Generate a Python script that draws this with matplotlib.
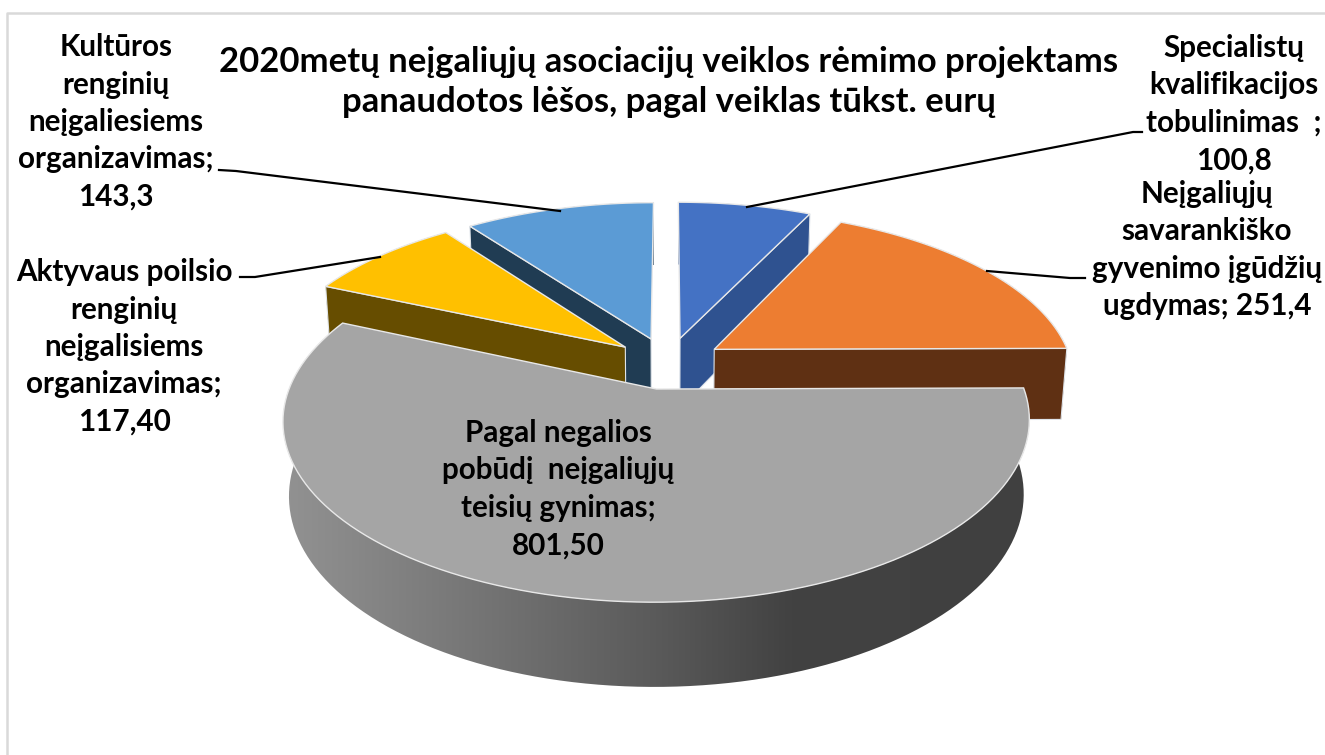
import numpy as np
import matplotlib.pyplot as plt
from matplotlib.colors import LinearSegmentedColormap
from matplotlib.patches import Polygon

title = '2020metų neįgaliųjų asociacijų veiklos rėmimo projektams\npanaudotos lėšos, pagal veiklas tūkst. eurų'
# order is clockwise from 12 o'clock, as in the chart
categories = ['Specialistų\nkvalifikacijos\ntobulinimas  ;',
              'Neįgaliųjų\nsavarankiško\ngyvenimo įgūdžių\nugdymas;',
              'Pagal negalios\npobūdį  neįgaliųjų\nteisių gynimas;',
              'Aktyvaus poilsio\nrenginių\nneįgalisiems\norganizavimas;',
              'Kultūros\nrenginių\nneįgaliesiems\norganizavimas;']
values = [100.8, 251.4, 801.5, 117.4, 143.3]
value_labels = ['100,8', '251,4', '801,50', '117,40', '143,3']
top_colors = ['#4472c4', '#ed7d31', '#a5a5a5', '#ffc000', '#5b9bd5']
side_colors = ['#2f5290', '#5f3013', '#707070', '#664d00', '#203c53']

# projection of the tilted pie, in pixels
CX, CY = 668, 363
RX, RY = 358, 167
PERSP, PERSP_Z = 0.17, 0.015
DEPTH = 73
EXPLODE = 0.155


def project(u, v, z=0.0):
    w = 1 + PERSP * v + PERSP_Z * z
    return CX + RX * u / w, CY + (-RY * v + DEPTH * z) / w


def rim(a0, a1, off, z=0.0, n=120):
    t = np.linspace(a0, a1, n)
    x, y = project(np.sin(t) + off[0], np.cos(t) + off[1], z)
    return np.column_stack([x, y])


fig = plt.figure(figsize=(13.25, 7.55), dpi=100)
ax = fig.add_axes([0, 0, 1, 1])
ax.set_xlim(0, 1325)
ax.set_ylim(755, 0)
ax.axis('off')

# chart frame, only left and top edges show in the crop
ax.plot([7, 7, 1325], [755, 13, 13], color='#d9d9d9', lw=1.8, zorder=1)

angles = np.cumsum([0] + values) / sum(values) * 2 * np.pi
draw_order = [0, 4, 3, 1, 2]
z = 2
for i in draw_order:
    a0, a1 = angles[i], angles[i + 1]
    mid = (a0 + a1) / 2
    off = (EXPLODE * np.sin(mid), EXPLODE * np.cos(mid))
    top = rim(a0, a1, off)
    bottom = rim(a0, a1, off, 1.0)
    apex_top = np.array(project(off[0], off[1]))
    apex_bot = np.array(project(off[0], off[1], 1.0))

    side = np.vstack([top, bottom[::-1]])
    if i == 2:
        # gray slice has the gradient on its rim
        cmap = LinearSegmentedColormap.from_list(
            'rim', [(0, '#929292'), (0.19, '#7d7d7d'), (0.5, '#5a5a5a'), (0.68, '#424242'), (1, '#404040')])
        clip = Polygon(side, closed=True, fc='none', ec='none', zorder=z)
        ax.add_patch(clip)
        im = ax.imshow(np.linspace(0, 1, 256)[None, :], cmap=cmap, aspect='auto',
                       extent=(side[:, 0].min(), side[:, 0].max(), side[:, 1].max(), side[:, 1].min()),
                       zorder=z)
        im.set_clip_path(clip)
    else:
        ax.add_patch(Polygon(side, fc=side_colors[i], ec='none', zorder=z))
        # only the cut face turned towards the viewer gets drawn
        if np.cos(a1 + np.pi / 2) < 0:
            face = np.vstack([apex_top, top[-1], bottom[-1], apex_bot])
        else:
            face = np.vstack([apex_top, top[0], bottom[0], apex_bot])
        ax.add_patch(Polygon(face, fc=side_colors[i], ec='#dfe4ea', lw=0.8, zorder=z))
    ax.add_patch(Polygon(np.vstack([apex_top, top]), fc=top_colors[i], ec='#e8e8e8', lw=1.0, zorder=z + 1))
    z += 2

ax.set_xlim(0, 1325)
ax.set_ylim(755, 0)

plt.rcParams['font.family'] = ['Lato', 'DejaVu Sans']
ax.text(669, 82, title, ha='center', va='center', fontsize=24.9, fontweight='bold', linespacing=1.28, zorder=30)

# label centres
label_xy = [(1234, 104), (1207, 250), (558, 489), (124, 347), (116, 122)]
for cat, val, (x, y) in zip(categories, value_labels, label_xy):
    sep = ' ' if cat.endswith('ugdymas;') else '\n'
    ax.text(x, y, cat + sep + val, ha='center', va='center', fontsize=21.3, fontweight='bold',
            linespacing=1.41, zorder=30)

# leader lines
leaders = [([1142, 1133, 747], [132, 132, 207]),
           ([1085, 1070, 987], [278, 278, 271]),
           ([240, 255, 380], [277, 277, 257]),
           ([219, 236, 560], [170, 171, 211])]
for lx, ly in leaders:
    ax.plot(lx, ly, color='black', lw=1.6, zorder=31)

fig.savefig('out.png', dpi=100)
